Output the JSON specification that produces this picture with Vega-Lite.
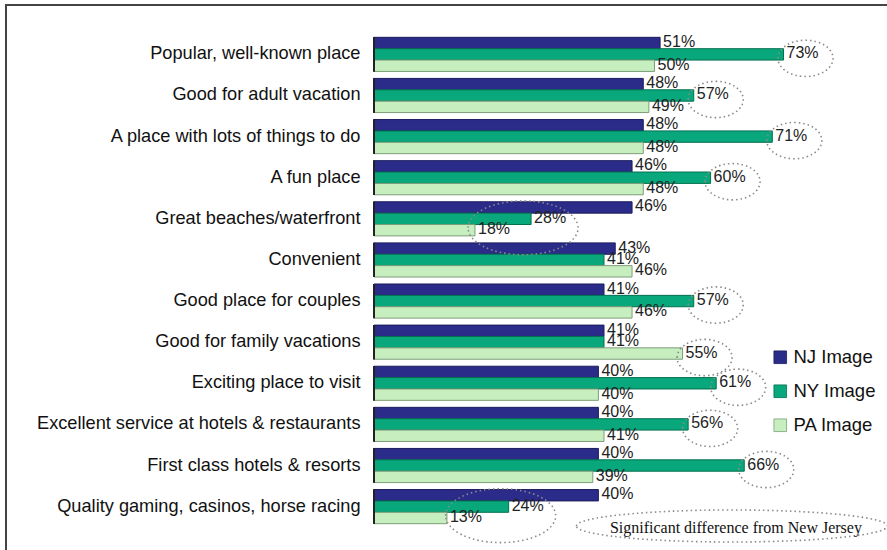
{
  "$schema": "https://vega.github.io/schema/vega-lite/v6.json",
  "autosize": {"type": "none"},
  "padding": {"left": 6, "top": 5, "right": 0, "bottom": 0},
  "width": 890,
  "height": 551,
  "background": "white",
  "config": {
    "view": {"stroke": "#444", "strokeWidth": 2},
    "font": "Liberation Sans"
  },
  "data": {
    "values": [
      {"category": "Popular, well-known place", "series": "NJ Image", "value": 0.51, "ring": ""},
      {"category": "Popular, well-known place", "series": "NY Image", "value": 0.73, "ring": "single"},
      {"category": "Popular, well-known place", "series": "PA Image", "value": 0.50, "ring": ""},
      {"category": "Good for adult vacation", "series": "NJ Image", "value": 0.48, "ring": ""},
      {"category": "Good for adult vacation", "series": "NY Image", "value": 0.57, "ring": "single"},
      {"category": "Good for adult vacation", "series": "PA Image", "value": 0.49, "ring": ""},
      {"category": "A place with lots of things to do", "series": "NJ Image", "value": 0.48, "ring": ""},
      {"category": "A place with lots of things to do", "series": "NY Image", "value": 0.71, "ring": "single"},
      {"category": "A place with lots of things to do", "series": "PA Image", "value": 0.48, "ring": ""},
      {"category": "A fun place", "series": "NJ Image", "value": 0.46, "ring": ""},
      {"category": "A fun place", "series": "NY Image", "value": 0.60, "ring": "single"},
      {"category": "A fun place", "series": "PA Image", "value": 0.48, "ring": ""},
      {"category": "Great beaches/waterfront", "series": "NJ Image", "value": 0.46, "ring": ""},
      {"category": "Great beaches/waterfront", "series": "NY Image", "value": 0.28, "ring": "pair"},
      {"category": "Great beaches/waterfront", "series": "PA Image", "value": 0.18, "ring": ""},
      {"category": "Convenient", "series": "NJ Image", "value": 0.43, "ring": ""},
      {"category": "Convenient", "series": "NY Image", "value": 0.41, "ring": ""},
      {"category": "Convenient", "series": "PA Image", "value": 0.46, "ring": ""},
      {"category": "Good place for couples", "series": "NJ Image", "value": 0.41, "ring": ""},
      {"category": "Good place for couples", "series": "NY Image", "value": 0.57, "ring": "single"},
      {"category": "Good place for couples", "series": "PA Image", "value": 0.46, "ring": ""},
      {"category": "Good for family vacations", "series": "NJ Image", "value": 0.41, "ring": ""},
      {"category": "Good for family vacations", "series": "NY Image", "value": 0.41, "ring": ""},
      {"category": "Good for family vacations", "series": "PA Image", "value": 0.55, "ring": "single"},
      {"category": "Exciting place to visit", "series": "NJ Image", "value": 0.40, "ring": ""},
      {"category": "Exciting place to visit", "series": "NY Image", "value": 0.61, "ring": "single"},
      {"category": "Exciting place to visit", "series": "PA Image", "value": 0.40, "ring": ""},
      {"category": "Excellent service at hotels & restaurants", "series": "NJ Image", "value": 0.40, "ring": ""},
      {"category": "Excellent service at hotels & restaurants", "series": "NY Image", "value": 0.56, "ring": "single"},
      {"category": "Excellent service at hotels & restaurants", "series": "PA Image", "value": 0.41, "ring": ""},
      {"category": "First class hotels & resorts", "series": "NJ Image", "value": 0.40, "ring": ""},
      {"category": "First class hotels & resorts", "series": "NY Image", "value": 0.66, "ring": "single"},
      {"category": "First class hotels & resorts", "series": "PA Image", "value": 0.39, "ring": ""},
      {"category": "Quality gaming, casinos, horse racing", "series": "NJ Image", "value": 0.40, "ring": ""},
      {"category": "Quality gaming, casinos, horse racing", "series": "NY Image", "value": 0.24, "ring": "pair"},
      {"category": "Quality gaming, casinos, horse racing", "series": "PA Image", "value": 0.13, "ring": ""}
    ]
  },
  "encoding": {
    "y": {
      "field": "category",
      "type": "nominal",
      "sort": null,
      "scale": {"paddingInner": 0.17, "paddingOuter": 0.786},
      "axis": {
        "title": null,
        "orient": "left",
        "offset": -368,
        "domain": false,
        "ticks": false,
        "labelPadding": 14,
        "labelFontSize": 18.2,
        "labelFont": "Liberation Sans",
        "labelColor": "#111",
        "labelLimit": 400
      }
    },
    "x": {
      "field": "value",
      "type": "quantitative",
      "scale": {"domain": [-0.656, 0.9305], "nice": false, "zero": false},
      "axis": null
    }
  },
  "layer": [
    {
      "mark": {"type": "bar", "strokeWidth": 1},
      "encoding": {
        "yOffset": {"field": "series", "type": "nominal", "scale": {"paddingInner": 0, "paddingOuter": 0}},
        "x2": {"datum": 0},
        "color": {
          "field": "series",
          "type": "nominal",
          "scale": {"domain": ["NJ Image", "NY Image", "PA Image"], "range": ["#2B2C8A", "#08A87C", "#C6EEBF"]},
          "legend": {
            "title": null,
            "orient": "none",
            "legendX": 765,
            "legendY": 343,
            "symbolType": "square",
            "symbolSize": 160,
            "symbolStrokeWidth": 0.8,
            "labelFontSize": 18.5,
            "labelFont": "Liberation Sans",
            "labelColor": "#111",
            "labelOffset": 4,
            "rowPadding": 15
          }
        },
        "stroke": {
          "field": "series",
          "type": "nominal",
          "scale": {"domain": ["NJ Image", "NY Image", "PA Image"], "range": ["#1C1C5E", "#04704F", "#7E9E7A"]},
          "legend": null
        }
      }
    },
    {
      "mark": {"type": "bar", "color": "#222"},
      "encoding": {
        "x": {"datum": -0.0018},
        "x2": {"datum": 0.0018},
        "height": {"band": 1.205}
      }
    },
    {
      "mark": {"type": "text", "align": "left", "baseline": "middle", "dx": 3, "dy": -1, "fontSize": 16, "font": "Liberation Sans", "color": "#222"},
      "encoding": {
        "yOffset": {"field": "series", "type": "nominal", "scale": {"paddingInner": 0, "paddingOuter": 0}},
        "text": {"field": "value", "type": "quantitative", "format": ".0%"}
      }
    },
    {
      "transform": [{"filter": "datum.ring === 'single'"}],
      "mark": {
        "type": "point",
        "shape": "M -0.2 0.145 A 1 0.66 0 1 1 1.8 0.145 A 1 0.66 0 1 1 -0.2 0.145 Z",
        "size": 3025,
        "filled": false,
        "stroke": "#8a8a8a",
        "strokeWidth": 1.6,
        "strokeDash": [1.5, 3],
        "opacity": 1
      },
      "encoding": {
        "yOffset": {"field": "series", "type": "nominal", "scale": {"paddingInner": 0, "paddingOuter": 0}}
      }
    },
    {
      "transform": [{"filter": "datum.ring === 'pair'"}],
      "mark": {
        "type": "point",
        "shape": "M -1.145 0.164 A 1 0.49 0 1 1 0.855 0.164 A 1 0.49 0 1 1 -1.145 0.164 Z",
        "size": 12100,
        "filled": false,
        "stroke": "#8a8a8a",
        "strokeWidth": 1.6,
        "strokeDash": [1.5, 3],
        "opacity": 1
      },
      "encoding": {
        "yOffset": {"field": "series", "type": "nominal", "scale": {"paddingInner": 0, "paddingOuter": 0}}
      }
    },
    {
      "data": {"values": [{"category": "Quality gaming, casinos, horse racing", "series": "PA Image", "value": 0.638, "note": "Significant difference from New Jersey"}]},
      "layer": [
        {
          "mark": {
            "type": "point",
            "shape": "M -1 0.0514 A 1 0.103 0 1 1 1 0.0514 A 1 0.103 0 1 1 -1 0.0514 Z",
            "size": 96721,
            "filled": false,
            "stroke": "#8a8a8a",
            "strokeWidth": 1.6,
            "strokeDash": [1.5, 3],
            "opacity": 1
          },
          "encoding": {
            "yOffset": {"field": "series", "type": "nominal", "scale": {"domain": ["NJ Image", "NY Image", "PA Image"], "paddingInner": 0, "paddingOuter": 0}}
          }
        },
        {
          "mark": {"type": "text", "align": "center", "baseline": "middle", "dx": 4, "dy": 10, "fontSize": 16, "font": "Liberation Serif", "color": "#111"},
          "encoding": {
            "yOffset": {"field": "series", "type": "nominal", "scale": {"domain": ["NJ Image", "NY Image", "PA Image"], "paddingInner": 0, "paddingOuter": 0}},
            "text": {"field": "note", "type": "nominal"}
          }
        }
      ]
    }
  ]
}
